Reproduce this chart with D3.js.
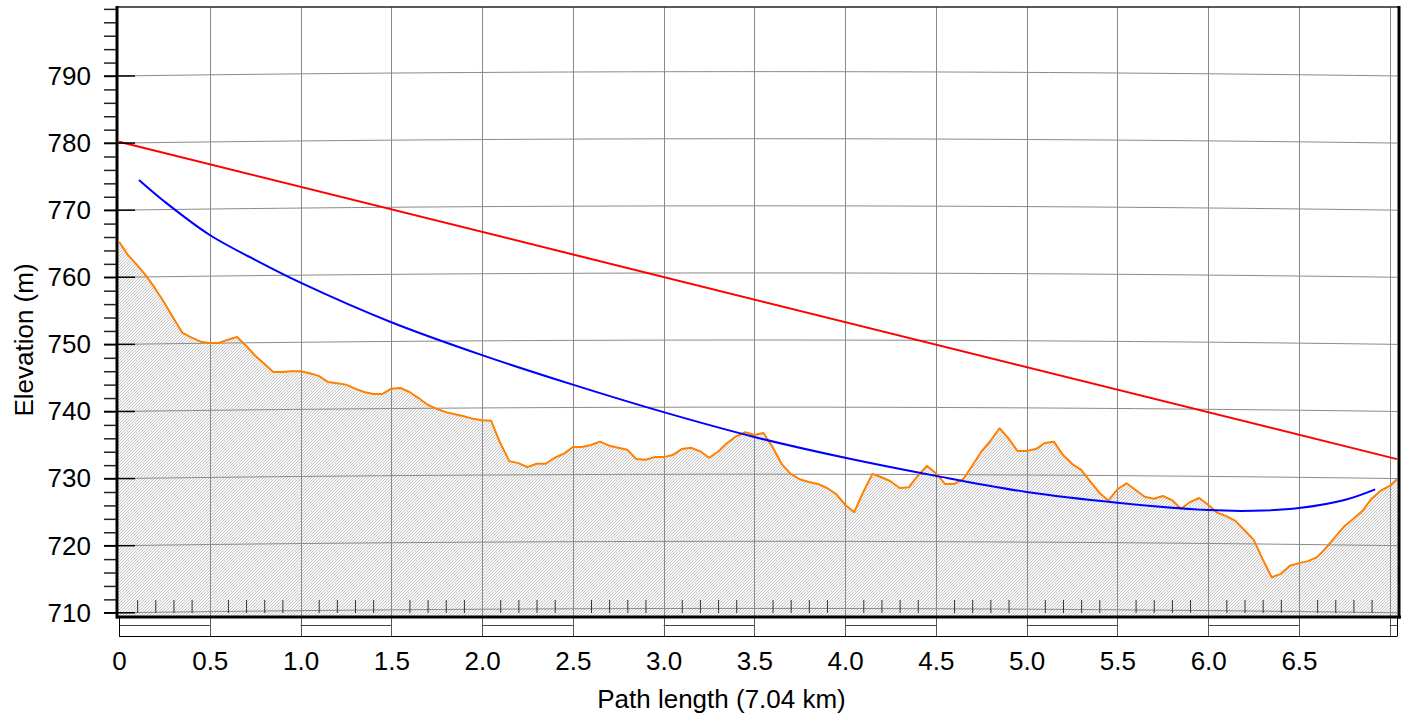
<!DOCTYPE html>
<html><head><meta charset="utf-8">
<script src="https://cdn.jsdelivr.net/npm/d3@7"></script>
<style>body{margin:0;background:#fff} text{font-family:"Liberation Sans",Arial,Helvetica,sans-serif}</style>
</head><body><svg id="c" width="1407" height="716"></svg>
<script>
// ---------- data ----------
const pathLengthKm = 7.04;
const terrainStepKm = 0.05;
const terrainElev = [
765.3,763.3,761.8,760.2,758.3,756.2,753.9,751.7,751.0,750.4,
750.2,750.2,750.7,751.1,749.8,748.3,747.1,745.9,745.9,746.0,
746.0,745.7,745.3,744.4,744.2,744.0,743.4,742.9,742.6,742.6,
743.4,743.5,742.9,742.0,741.0,740.4,739.9,739.6,739.3,738.9,
738.7,738.6,735.3,732.6,732.3,731.7,732.2,732.2,733.1,733.7,
734.7,734.7,735.0,735.5,734.9,734.6,734.3,732.9,732.8,733.2,
733.2,733.5,734.4,734.6,734.1,733.1,734.0,735.3,736.3,736.9,
736.5,736.8,734.7,732.2,730.7,729.9,729.5,729.2,728.6,727.7,
726.1,725.0,728.0,730.7,730.2,729.6,728.6,728.7,730.4,731.9,
730.8,729.2,729.2,729.9,731.9,734.0,735.6,737.5,736.0,734.1,
734.1,734.4,735.3,735.5,733.5,732.2,731.3,729.6,727.9,726.7,
728.4,729.3,728.3,727.3,727.0,727.4,726.8,725.5,726.5,727.1,
726.1,724.9,724.4,723.7,722.3,720.9,718.0,715.3,715.8,717.0,
717.4,717.7,718.3,719.7,721.3,722.9,724.0,725.2,727.0,728.2,
728.9];
const terrainEndElev = 729.9;

const fresnelDist = [0.11,0.25,0.5,0.75,1.0,1.5,2.0,2.5,3.0,3.5,4.0,4.5,5.0,5.5,6.0,6.25,6.5,6.75,6.92];
const fresnelElev = [774.5,771.3,766.3,762.6,759.2,753.3,748.4,744.0,739.9,736.2,733.1,730.4,728.0,726.4,725.3,725.2,725.6,726.8,728.4];

const losDist = [0, 7.04];
const losElev = [780.2, 732.9];

const xTicks = [0,0.5,1.0,1.5,2.0,2.5,3.0,3.5,4.0,4.5,5.0,5.5,6.0,6.5];
const xTickLabels = ["0","0.5","1.0","1.5","2.0","2.5","3.0","3.5","4.0","4.5","5.0","5.5","6.0","6.5"];
const xGrid = [0.5,1.0,1.5,2.0,2.5,3.0,3.5,4.0,4.5,5.0,5.5,6.0,6.5,7.0];
const yTicks = [710,720,730,740,750,760,770,780,790];
const yMinorTicks = d3.range(710, 801, 2);

// ---------- layout ----------
const svg = d3.select("#c");
const x = d3.scaleLinear().domain([0, pathLengthKm]).range([119, 1397]);
const y = d3.scaleLinear().domain([709.37, 800.28]).range([617, 7]);
const kFactor = 1.5, earthR = 6371;
const bulge = d => d * (pathLengthKm - d) / (2 * kFactor * earthR) * 1000;

const defs = svg.append("defs");
const pat = defs.append("pattern").attr("id","hatch").attr("patternUnits","userSpaceOnUse")
  .attr("width",3).attr("height",3);
pat.append("rect").attr("width",3).attr("height",3).attr("fill","#f6f6f6");
pat.append("path").attr("d","M-1,1 L1,-1 M0,3 L3,0 M2,4 L4,2").attr("stroke","#c4c4c4").attr("stroke-width",0.9);
defs.append("clipPath").attr("id","plot").append("rect")
  .attr("x",x(0)).attr("y",7).attr("width",x(pathLengthKm)-x(0)).attr("height",610);

const terrain = terrainElev.map((v,i)=>[i*terrainStepKm, v]).concat([[pathLengthKm, terrainEndElev]]);

// terrain fill
svg.append("path").datum(terrain).attr("clip-path","url(#plot)")
  .attr("fill","url(#hatch)")
  .attr("d", d3.area().x(d=>x(d[0])).y0(617).y1(d=>y(d[1])));

// horizontal (curved earth) grid
const gridPts = d3.range(0, pathLengthKm, 0.08).concat([pathLengthKm]);
yTicks.forEach(v=>{
  svg.append("path").datum(gridPts).attr("fill","none").attr("stroke","#8a8a8a").attr("stroke-width",1)
    .attr("d", d3.line().x(d=>x(d)).y(d=>y(v + bulge(d))));
});
// vertical grid
svg.append("g").selectAll("line").data(xGrid).join("line")
  .attr("x1",d=>Math.round(x(d))+0.5).attr("x2",d=>Math.round(x(d))+0.5)
  .attr("y1",7).attr("y2",636).attr("stroke","#8a8a8a").attr("stroke-width",1);

// bottom minor ticks every 0.1 km
svg.append("g").attr("transform","translate(0,613)")
  .call(d3.axisTop(x).tickValues(d3.range(1,71).map(i=>i/10).filter(v=>Math.abs(v*2-Math.round(v*2))>1e-6)).tickSize(13).tickFormat(""))
  .call(g=>g.select(".domain").remove())
  .call(g=>g.selectAll("line").attr("stroke","#333"));

// scale band below plot
const band = svg.append("g");
band.append("line").attr("x1",x(0)).attr("x2",x(pathLengthKm)).attr("y1",636.5).attr("y2",636.5).attr("stroke","#000");
const segs = d3.range(0, 15).map(i=>[i*0.5, Math.min((i+1)*0.5, pathLengthKm)]);
band.selectAll(".mid").data(segs.filter((s,i)=>i%2===0)).join("line")
  .attr("x1",d=>x(d[0])).attr("x2",d=>x(d[1])).attr("y1",625.5).attr("y2",625.5).attr("stroke","#444");
band.selectAll(".sep").data([0, pathLengthKm]).join("line")
  .attr("x1",d=>Math.round(x(d))+0.5).attr("x2",d=>Math.round(x(d))+0.5).attr("y1",617).attr("y2",636.5).attr("stroke","#000");
band.selectAll(".sep2").data(xGrid).join("line")
  .attr("x1",d=>Math.round(x(d))+0.5).attr("x2",d=>Math.round(x(d))+0.5).attr("y1",617).attr("y2",636.5).attr("stroke","#555");

// lines
const line = d3.line().x(d=>x(d[0])).y(d=>y(d[1]));
svg.append("path").datum(terrain).attr("clip-path","url(#plot)").attr("fill","none")
  .attr("stroke","#ff8000").attr("stroke-width",2).attr("stroke-linejoin","round").attr("d", line);
svg.append("path").datum(fresnelDist.map((d,i)=>[d, fresnelElev[i]])).attr("fill","none")
  .attr("stroke","#0000ff").attr("stroke-width",2).attr("d", line.curve(d3.curveCatmullRom));
svg.append("path").datum(losDist.map((d,i)=>[d, losElev[i]])).attr("fill","none")
  .attr("stroke","#ff0000").attr("stroke-width",2).attr("d", d3.line().x(d=>x(d[0])).y(d=>y(d[1])));

// frame
svg.append("line").attr("x1",116).attr("x2",1400).attr("y1",7).attr("y2",7).attr("stroke","#222").attr("stroke-width",1.5);
svg.append("line").attr("x1",116).attr("x2",1401).attr("y1",617).attr("y2",617).attr("stroke","#000").attr("stroke-width",3);
svg.append("line").attr("x1",1399).attr("x2",1399).attr("y1",6).attr("y2",618.5).attr("stroke","#000").attr("stroke-width",3);
svg.append("line").attr("x1",117).attr("x2",117).attr("y1",6).attr("y2",618.5).attr("stroke","#000").attr("stroke-width",3);

// left axis: minor ticks
svg.append("g").attr("transform","translate(116,0)")
  .call(d3.axisLeft(y).tickValues(yMinorTicks).tickSize(12).tickFormat(""))
  .call(g=>g.select(".domain").remove())
  .call(g=>g.selectAll("line").attr("stroke","#222").attr("stroke-width",1.5));
// major ticks crossing axis
svg.append("g").selectAll("line").data(yTicks).join("line")
  .attr("x1",104).attr("x2",135).attr("y1",d=>y(d)).attr("y2",d=>y(d)).attr("stroke","#000").attr("stroke-width",1.5);
// left labels
svg.append("g").attr("transform","translate(117,0)")
  .call(d3.axisLeft(y).tickValues(yTicks).tickSize(0).tickPadding(26).tickFormat(d3.format("d")))
  .call(g=>g.select(".domain").remove())
  .call(g=>g.selectAll("text").attr("font-size",26).attr("fill","#000").attr("font-family","'Liberation Sans',Arial,sans-serif"));
// bottom labels
svg.append("g").attr("transform","translate(0,617)")
  .call(d3.axisBottom(x).tickValues(xTicks).tickSize(0).tickPadding(35).tickFormat((d,i)=>xTickLabels[i]))
  .call(g=>g.select(".domain").remove())
  .call(g=>g.selectAll("text").attr("font-size",26).attr("fill","#000").attr("font-family","'Liberation Sans',Arial,sans-serif"));

// titles
svg.append("text").attr("x",721.5).attr("y",708).attr("text-anchor","middle").attr("font-size",26).text("Path length (7.04 km)");
svg.append("text").attr("transform","translate(33,340) rotate(-90)").attr("text-anchor","middle").attr("font-size",26).text("Elevation (m)");
</script></body></html>
